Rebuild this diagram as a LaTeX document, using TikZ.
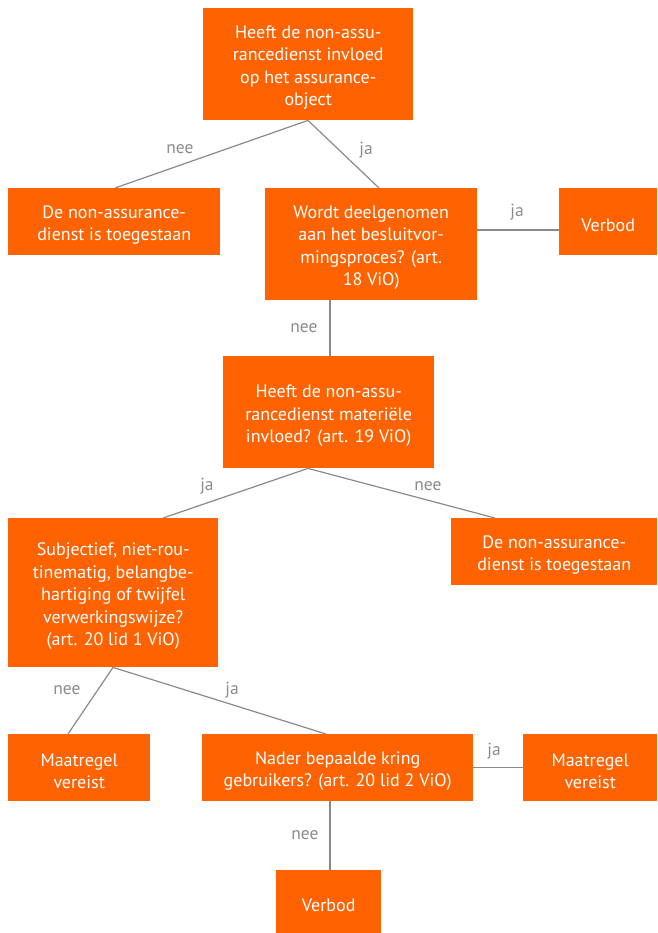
\documentclass[tikz,border=0pt]{standalone}
\usepackage{fontspec}
\setmainfont{PT Sans}
\usetikzlibrary{calc}
\definecolor{boxor}{HTML}{FF6200}
\definecolor{lineg}{HTML}{8A8A8A}
\definecolor{labg}{HTML}{8C8C8C}
\tikzset{
  box/.style={fill=boxor, draw=none, anchor=north west, inner sep=0pt},
  boxtext/.style={text=white, align=center, inner sep=0pt, font=\fontsize{18}{22.5}\selectfont},
  conn/.style={draw=lineg, line width=1.2pt},
  lab/.style={text=labg, font=\fontsize{17.5}{20}\selectfont, inner sep=0pt}
}
\newcommand{\bx}[6]{% name, x1, y1, x2, y2, text
  \node[box, minimum width=#4pt-#2pt, minimum height=#5pt-#3pt] (#1) at (#2,#3) {};
  \node[boxtext] (#1t) at ($(#1.center)+(0,3.5)$) {#6};}
\begin{document}
\begin{tikzpicture}[x=1pt,y=-1pt]
\useasboundingbox (0,0) rectangle (657,933);
\fill[white] (0,0) rectangle (657,933);
\bx{b1}{203}{8}{413}{120}{Heeft de non-assu-\\rancedienst invloed\\op het assurance-\\object}
\bx{b2}{8}{188}{220}{255}{De non-assurance-\\dienst is toegestaan}
\bx{b3}{265}{188}{477}{300}{Wordt deelgenomen\\aan het besluitvor-\\mingsproces? (art.\\18 ViO)}
\bx{v1}{559}{188}{657}{255}{Verbod}
\bx{b4}{223}{356}{434}{468}{Heeft de non-assu-\\rancedienst materiële\\invloed? (art. 19 ViO)}
\bx{b5}{451}{518}{657}{585}{De non-assurance-\\dienst is toegestaan}
\bx{b6}{8}{518}{218}{667}{Subjectief, niet-rou-\\tinematig, belangbe-\\hartiging of twijfel\\verwerkingswijze?\\(art. 20 lid 1 ViO)}
\bx{m1}{8}{734}{150}{801}{Maatregel\\vereist}
\bx{b8}{202}{734}{473}{801}{Nader bepaalde kring\\gebruikers? (art. 20 lid 2 ViO)}
\bx{m2}{523}{734}{657}{801}{Maatregel\\vereist}
\bx{v2}{276}{870}{381}{933}{Verbod}
% connectors
\draw[conn] ($(b1.south west)+(105,0)$) -- ($(b2.north west)+(107,0)$);
\draw[conn] ($(b1.south west)+(105,0)$) -- ($(b3.north west)+(114,0)$);
\draw[conn] ($(b3.north east)+(0,42)$) -- ($(v1.north west)+(0,42)$);
\draw[conn] ($(b3.south west)+(65,0)$) -- ($(b4.north west)+(107,0)$);
\draw[conn] ($(b4.south west)+(85,0)$) -- ($(b6.north west)+(155,0)$);
\draw[conn] ($(b4.south west)+(85,0)$) -- ($(b5.north west)+(44,0)$);
\draw[conn] ($(b6.south west)+(105,0)$) -- ($(m1.north west)+(60,0)$);
\draw[conn] ($(b6.south west)+(105,0)$) -- ($(b8.north west)+(124,0)$);
\draw[conn] (b8.east) -- (m2.west);
\draw[conn] ($(b8.south west)+(128,0)$) -- ($(v2.north west)+(54,0)$);
% labels
\node[lab] (l1) at (180,149) {nee};
\node[lab] (l2) at (366,150) {ja};
\node[lab] (l3) at (517,212) {ja};
\node[lab] (l4) at (304,328) {nee};
\node[lab] (l5) at (207,486) {ja};
\node[lab] (l6) at (428,486) {nee};
\node[lab] (l7) at (67,690) {nee};
\node[lab] (l8) at (232,690) {ja};
\node[lab] (l9) at (494,751) {ja};
\node[lab] (l10) at (305,835) {nee};
\end{tikzpicture}
\end{document}
